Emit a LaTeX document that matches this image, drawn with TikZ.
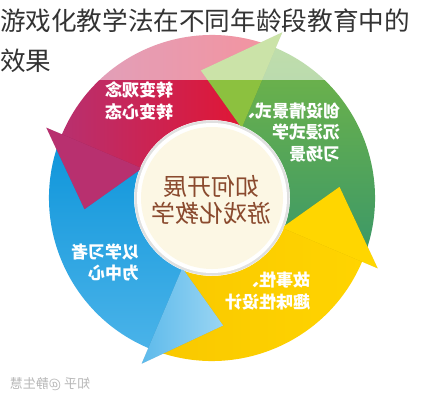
\documentclass[tikz,border=0pt]{standalone}
\usepackage{fontspec}
\usepackage{graphicx}
\newfontfamily\cjk{Noto Sans CJK SC}
\definecolor{pinkA}{HTML}{B8306F}
\definecolor{pinkM}{HTML}{D81E45}
\definecolor{pinkB}{HTML}{E6122C}
\definecolor{greenT}{HTML}{72B547}
\definecolor{greenB}{HTML}{3B9868}
\definecolor{greenH}{HTML}{8CC13F}
\definecolor{blueT}{HTML}{0E95DA}
\definecolor{blueB}{HTML}{4AB3E9}
\definecolor{blueHA}{HTML}{5DBAEB}
\definecolor{blueHB}{HTML}{9AD5F3}
\definecolor{yellowA}{HTML}{F9C800}
\definecolor{yellowB}{HTML}{FFD400}
\definecolor{yellowH}{HTML}{FFD600}
\definecolor{cream}{HTML}{FCF7E4}
\definecolor{brush}{HTML}{8A4A2E}
\definecolor{titlegray}{HTML}{333333}
\newcommand\Rin{78}
\newcommand\Rout{163}
\newcommand\ringbody[3]{\path[#3] (C) ++(#1:\Rout) arc[start angle=#1,end angle=#2,radius=\Rout] -- ([shift={(#2:\Rin)}]C) arc[start angle=#2,end angle=#1,radius=\Rin] -- cycle;}
\newcommand\ringhead[3]{\path[#3] ([shift={(#1:180)}]C) -- ([shift={(#2:128)}]C) -- ([shift={(#1:76)}]C) -- cycle;}
\tikzset{
  bandtext/.style={text=white, font=\cjk\bfseries\fontsize{17}{21.5}\selectfont, align=left, xscale=-1, inner sep=0pt},
  headshadow/.style={fill=black, opacity=0.15}
}
\begin{document}
\begin{tikzpicture}[x=1pt,y=1pt]
\useasboundingbox (0,0) rectangle (423,400);
\fill[white] (0,0) rectangle (423,400);
\coordinate (C) at (212,202);
% bodies
\ringbody{-21}{68}{top color=greenT, bottom color=greenB}
\ringbody{69}{158}{left color=pinkA, middle color=pinkM, right color=pinkB}
\ringbody{159}{248}{top color=blueT, bottom color=blueB}
\ringbody{249}{338}{left color=yellowA, right color=yellowB}
% head shadows
\begin{scope}[shift={(2,-2)}]
\ringhead{67}{95}{headshadow}
\ringhead{157}{185}{headshadow}
\ringhead{247}{275}{headshadow}
\ringhead{337}{365}{headshadow}
\end{scope}
% heads
\ringhead{67}{95}{fill=greenH}
\ringhead{157}{185}{fill=pinkA}
\ringhead{247}{275}{left color=blueHA, right color=blueHB}
\ringhead{337}{365}{fill=yellowH}
% centre
\fill[fill=black!12] (C) circle[radius=77.5];
\fill[white] (C) circle[radius=75];
\fill[cream] (C) circle[radius=71];
% title overlay
\fill[white, opacity=0.55] (0,320) rectangle (423,400);
% texts
\node[bandtext] (t1) at (139,299) {转变观念\\转变心态};
\node[bandtext] (t2) at (289,268) {创设情景式、\\沉浸式学\\习场景};
\node[bandtext] (t3) at (105,137.5) {以学习者\\为中心};
\node[bandtext] (t4) at (267.5,109) {故事性、\\趣味性设计};
\node[text=brush, font=\cjk\fontsize{24}{27}\selectfont, align=center, xscale=-1, inner sep=0pt] (mid) at (211,200) {如何开展\\游戏化教学};
\node[text=black!28, font=\cjk\fontsize{13}{15}\selectfont, xscale=-1, inner sep=0pt] (wm) at (50,16) {知乎 @静生慧};
\node[text=titlegray, font=\cjk\fontsize{25.6}{30}\selectfont, anchor=west, inner sep=0pt] (title1) at (0,379) {游戏化教学法在不同年龄段教育中的};
\node[text=titlegray, font=\cjk\fontsize{25.6}{30}\selectfont, anchor=west, inner sep=0pt] (title2) at (0,339) {效果};
\end{tikzpicture}
\end{document}
